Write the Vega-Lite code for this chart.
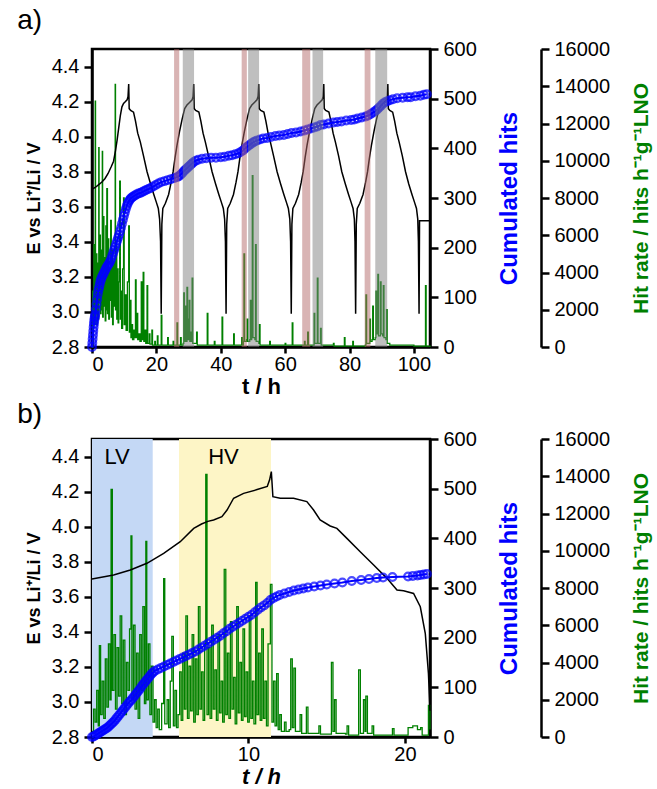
{
"$schema": "https://vega.github.io/schema/vega-lite/v6.json",
"padding": {"left": 15, "top": 5, "right": 0, "bottom": 0},
"config": {
  "font": "Liberation Sans",
  "view": {"stroke": "black", "strokeWidth": 2.5},
  "axis": {"domainColor": "black", "domainWidth": 2.5, "tickColor": "black", "tickWidth": 2.5, "tickSize": 8, "labelFontSize": 20, "labelColor": "black", "labelFont": "Liberation Sans", "titleFont": "Liberation Sans", "titleFontSize": 22, "titleFontWeight": "bold", "titleColor": "black", "grid": false, "labelPadding": 5},
  "axisX": {"labelPadding": 1, "titlePadding": 2, "tickSize": 6},
  "title": {"fontSize": 28, "fontWeight": "normal", "anchor": "start", "font": "Liberation Sans", "color": "black"}
},
"spacing": 0,
"resolve": {"scale": {"color": "independent"}},
"datasets": {
  "aE": [{"t":0,"e":3.70},{"t":1,"e":3.71},{"t":2,"e":3.725},{"t":3,"e":3.74},{"t":4,"e":3.76},{"t":5,"e":3.79},{"t":6,"e":3.83},{"t":6.7,"e":3.86},{"t":7.3,"e":3.92},{"t":7.8,"e":3.98},{"t":8.3,"e":4.05},{"t":8.8,"e":4.12},{"t":9.3,"e":4.17},{"t":9.8,"e":4.19},{"t":10.4,"e":4.2},{"t":10.9,"e":4.21},{"t":11.2,"e":4.23},{"t":11.4,"e":4.30},{"t":11.55,"e":4.16},{"t":12.0,"e":4.15},{"t":12.9,"e":4.14},{"t":13.5,"e":4.09},{"t":14.2,"e":4.02},{"t":15.0,"e":3.97},{"t":16.0,"e":3.89},{"t":17.1,"e":3.80},{"t":18.2,"e":3.73},{"t":19.2,"e":3.67},{"t":20.0,"e":3.625},{"t":20.6,"e":3.59},{"t":21.0,"e":3.53},{"t":21.3,"e":3.40},{"t":21.5,"e":2.99},
   {"t":21.7,"e":3.50},{"t":22.0,"e":3.59},{"t":22.8,"e":3.62},{"t":23.8,"e":3.67},{"t":24.6,"e":3.74},{"t":25.2,"e":3.80},{"t":25.8,"e":3.88},{"t":26.4,"e":3.95},{"t":27.2,"e":4.03},{"t":28.0,"e":4.10},{"t":28.8,"e":4.16},{"t":29.5,"e":4.18},{"t":30.3,"e":4.195},{"t":31.1,"e":4.21},{"t":31.4,"e":4.23},{"t":31.6,"e":4.30},{"t":31.75,"e":4.16},{"t":32.2,"e":4.15},{"t":33.2,"e":4.14},{"t":33.8,"e":4.09},{"t":34.5,"e":4.02},{"t":35.2,"e":3.97},{"t":36.2,"e":3.89},{"t":37.3,"e":3.80},{"t":38.4,"e":3.73},{"t":39.4,"e":3.67},{"t":40.2,"e":3.625},{"t":40.8,"e":3.59},{"t":41.2,"e":3.53},{"t":41.45,"e":3.40},{"t":41.65,"e":2.99},
   {"t":41.85,"e":3.50},{"t":42.15,"e":3.59},{"t":42.95,"e":3.62},{"t":43.95,"e":3.67},{"t":44.75,"e":3.74},{"t":45.35,"e":3.80},{"t":45.95,"e":3.88},{"t":46.55,"e":3.95},{"t":47.35,"e":4.03},{"t":48.15,"e":4.10},{"t":48.95,"e":4.16},{"t":49.65,"e":4.18},{"t":50.45,"e":4.195},{"t":51.25,"e":4.21},{"t":51.6,"e":4.23},{"t":51.8,"e":4.30},{"t":51.95,"e":4.16},{"t":52.4,"e":4.15},{"t":53.4,"e":4.14},{"t":54.0,"e":4.09},{"t":54.7,"e":4.02},{"t":55.4,"e":3.97},{"t":56.4,"e":3.89},{"t":57.5,"e":3.80},{"t":58.6,"e":3.73},{"t":59.6,"e":3.67},{"t":60.4,"e":3.625},{"t":61.0,"e":3.59},{"t":61.45,"e":3.53},{"t":61.7,"e":3.40},{"t":61.9,"e":2.99},
   {"t":62.1,"e":3.50},{"t":62.4,"e":3.59},{"t":63.2,"e":3.62},{"t":64.2,"e":3.67},{"t":65.0,"e":3.74},{"t":65.6,"e":3.80},{"t":66.2,"e":3.88},{"t":66.8,"e":3.95},{"t":67.6,"e":4.03},{"t":68.4,"e":4.10},{"t":69.2,"e":4.16},{"t":69.9,"e":4.18},{"t":70.7,"e":4.195},{"t":71.5,"e":4.21},{"t":71.8,"e":4.23},{"t":72.0,"e":4.30},{"t":72.15,"e":4.16},{"t":72.6,"e":4.15},{"t":73.6,"e":4.14},{"t":74.2,"e":4.09},{"t":74.9,"e":4.02},{"t":75.6,"e":3.97},{"t":76.6,"e":3.89},{"t":77.6,"e":3.80},{"t":78.7,"e":3.73},{"t":79.7,"e":3.67},{"t":80.5,"e":3.625},{"t":81.1,"e":3.59},{"t":81.5,"e":3.53},{"t":81.7,"e":3.40},{"t":81.9,"e":2.99},
   {"t":82.1,"e":3.50},{"t":82.4,"e":3.59},{"t":83.2,"e":3.62},{"t":84.2,"e":3.67},{"t":85.0,"e":3.74},{"t":85.6,"e":3.80},{"t":86.2,"e":3.88},{"t":86.8,"e":3.95},{"t":87.6,"e":4.03},{"t":88.4,"e":4.10},{"t":89.2,"e":4.16},{"t":89.9,"e":4.18},{"t":90.7,"e":4.195},{"t":91.5,"e":4.21},{"t":91.75,"e":4.23},{"t":91.9,"e":4.30},{"t":92.05,"e":4.16},{"t":92.5,"e":4.15},{"t":93.4,"e":4.14},{"t":94.0,"e":4.09},{"t":94.7,"e":4.02},{"t":95.4,"e":3.97},{"t":96.4,"e":3.89},{"t":97.4,"e":3.80},{"t":98.4,"e":3.73},{"t":99.4,"e":3.67},{"t":100.2,"e":3.625},{"t":100.8,"e":3.59},{"t":101.2,"e":3.53},{"t":101.4,"e":3.40},{"t":101.6,"e":2.99},{"t":101.75,"e":3.52},{"t":104.8,"e":3.52}],
  "aC": [{"t":0,"c":0},{"t":0.1,"c":8},{"t":0.2,"c":16},{"t":0.3,"c":24},{"t":0.4,"c":32},{"t":0.5,"c":40},{"t":0.6,"c":47},{"t":0.7,"c":53},{"t":0.8,"c":58},{"t":0.9,"c":62},{"t":1.0,"c":66},{"t":1.2,"c":76},{"t":1.4,"c":86},{"t":1.6,"c":96},{"t":1.8,"c":106},{"t":2.0,"c":114},{"t":2.2,"c":120},{"t":2.4,"c":126},{"t":2.6,"c":132},{"t":2.8,"c":136},{"t":3.0,"c":140},{"t":3.3,"c":144},{"t":3.6,"c":148},{"t":3.9,"c":152},{"t":4.2,"c":156},{"t":4.5,"c":160},{"t":4.8,"c":163},{"t":5.1,"c":166},{"t":5.4,"c":169},{"t":5.7,"c":173},{"t":6.0,"c":178},{"t":6.3,"c":184},{"t":6.6,"c":190},{"t":6.9,"c":196},{"t":7.2,"c":202},{"t":7.5,"c":208},{"t":7.8,"c":214},{"t":8.1,"c":220},{"t":8.4,"c":226},{"t":8.7,"c":233},{"t":9.0,"c":240},{"t":9.3,"c":248},{"t":9.6,"c":256},{"t":9.9,"c":264},{"t":10.2,"c":271},{"t":10.5,"c":278},{"t":10.8,"c":284},{"t":11.1,"c":289},{"t":11.4,"c":293},{"t":11.7,"c":296},{"t":12.0,"c":299},{"t":12.4,"c":301},{"t":12.8,"c":303},{"t":13.3,"c":305},{"t":13.8,"c":307},{"t":14.4,"c":309},{"t":15.0,"c":310},{"t":15.6,"c":312},{"t":16.2,"c":314},{"t":16.8,"c":316},{"t":17.5,"c":318},{"t":18.2,"c":320},{"t":19.0,"c":323},{"t":19.8,"c":326},{"t":20.6,"c":329},{"t":21.5,"c":332},{"t":22.5,"c":334},{"t":23.5,"c":336},{"t":24.5,"c":338},{"t":25.5,"c":340},{"t":26.4,"c":342},{"t":27.0,"c":344},{"t":27.5,"c":347},{"t":28.0,"c":350},{"t":28.5,"c":354},{"t":29.0,"c":357},{"t":29.5,"c":360},{"t":30.0,"c":363},{"t":30.5,"c":366},{"t":31.0,"c":369},{"t":31.5,"c":372},{"t":32.2,"c":375},{"t":33.0,"c":377},{"t":34.2,"c":379},{"t":35.5,"c":380},{"t":37.0,"c":381},{"t":38.5,"c":381},{"t":40.0,"c":382},{"t":41.2,"c":383},{"t":42.5,"c":385},{"t":43.5,"c":386},{"t":44.5,"c":388},{"t":45.5,"c":390},{"t":46.3,"c":393},{"t":47.0,"c":396},{"t":47.6,"c":400},{"t":48.2,"c":403},{"t":48.8,"c":406},{"t":49.4,"c":409},{"t":50.0,"c":412},{"t":50.6,"c":414},{"t":51.3,"c":416},{"t":52.2,"c":418},{"t":53.2,"c":420},{"t":54.4,"c":421},{"t":55.6,"c":423},{"t":57.0,"c":425},{"t":58.2,"c":426},{"t":59.6,"c":427},{"t":60.8,"c":429},{"t":62.0,"c":431},{"t":63.4,"c":432},{"t":64.8,"c":434},{"t":66.0,"c":436},{"t":67.0,"c":438},{"t":68.0,"c":440},{"t":69.0,"c":442},{"t":70.0,"c":444},{"t":71.0,"c":447},{"t":72.0,"c":448},{"t":73.5,"c":450},{"t":75.0,"c":452},{"t":76.2,"c":453},{"t":77.5,"c":454},{"t":79.0,"c":456},{"t":80.5,"c":457},{"t":81.5,"c":458},{"t":82.5,"c":460},{"t":83.8,"c":462},{"t":85.0,"c":464},{"t":85.8,"c":466},{"t":86.6,"c":469},{"t":87.3,"c":472},{"t":88.0,"c":475},{"t":88.6,"c":478},{"t":89.2,"c":482},{"t":89.8,"c":486},{"t":90.4,"c":490},{"t":91.0,"c":493},{"t":91.7,"c":495},{"t":92.5,"c":497},{"t":93.5,"c":499},{"t":94.8,"c":501},{"t":96.5,"c":502},{"t":98.0,"c":503},{"t":99.0,"c":503},{"t":100.5,"c":505},{"t":102.0,"c":506},{"t":103.1,"c":508},{"t":104.0,"c":509}],
  "aH": [{"t":0,"h":0},{"t":0.2,"h":3000},{"t":0.4,"h":1500},{"t":0.6,"h":5500},{"t":0.8,"h":1200},{"t":1.0,"h":13200},{"t":1.1,"h":2000},{"t":1.3,"h":5000},{"t":1.5,"h":1200},{"t":1.7,"h":4500},{"t":1.9,"h":1500},{"t":2.1,"h":10700},{"t":2.2,"h":2500},{"t":2.4,"h":6000},{"t":2.6,"h":1800},{"t":2.8,"h":5200},{"t":3.0,"h":2000},{"t":3.2,"h":10500},{"t":3.3,"h":1600},{"t":3.5,"h":7000},{"t":3.7,"h":2200},{"t":3.9,"h":4800},{"t":4.1,"h":1400},{"t":4.3,"h":6500},{"t":4.5,"h":2000},{"t":4.6,"h":8500},{"t":4.8,"h":1800},{"t":5.0,"h":5800},{"t":5.2,"h":1500},{"t":5.4,"h":4200},{"t":5.6,"h":2500},{"t":5.8,"h":6800},{"t":6.0,"h":1600},{"t":6.2,"h":5200},{"t":6.4,"h":1200},{"t":6.6,"h":4600},{"t":6.8,"h":2200},{"t":7.0,"h":3800},{"t":7.2,"h":14100},{"t":7.3,"h":2000},{"t":7.5,"h":5500},{"t":7.7,"h":1500},{"t":7.9,"h":4200},{"t":8.1,"h":1300},{"t":8.3,"h":3500},{"t":8.6,"h":8900},{"t":8.8,"h":1500},{"t":9.0,"h":3000},{"t":9.2,"h":1000},{"t":9.5,"h":4200},{"t":9.8,"h":8000},{"t":10.0,"h":1200},{"t":10.3,"h":2800},{"t":10.6,"h":900},{"t":11.0,"h":3500},{"t":11.4,"h":6500},
   {"t":11.6,"h":800},{"t":11.9,"h":2500},{"t":12.1,"h":500},{"t":12.4,"h":1200},{"t":12.6,"h":400},{"t":13.0,"h":900},{"t":13.3,"h":500},{"t":13.5,"h":3600},{"t":13.7,"h":500},{"t":14.0,"h":1800},{"t":14.2,"h":400},{"t":14.6,"h":700},{"t":14.9,"h":300},{"t":15.3,"h":3500},{"t":15.5,"h":400},{"t":15.9,"h":4000},{"t":16.1,"h":300},{"t":16.5,"h":900},{"t":16.7,"h":200},{"t":17.1,"h":3300},{"t":17.3,"h":200},{"t":17.8,"h":700},{"t":18.0,"h":150},{"t":18.6,"h":900},{"t":18.8,"h":100},{"t":19.5,"h":300},{"t":19.7,"h":100},{"t":20.3,"h":600},{"t":20.5,"h":100},{"t":21.3,"h":100},{"t":21.5,"h":1700},{"t":21.7,"h":100},{"t":23.0,"h":100},{"t":23.5,"h":500},{"t":23.7,"h":100},{"t":25.0,"h":100},{"t":25.2,"h":300},{"t":25.4,"h":100},{"t":26.2,"h":100},{"t":26.4,"h":1300},{"t":26.6,"h":100},{"t":27.3,"h":100},{"t":27.5,"h":500},{"t":27.7,"h":100},{"t":28.3,"h":200},{"t":28.5,"h":2900},{"t":28.7,"h":300},{"t":29.0,"h":2200},{"t":29.2,"h":300},{"t":29.5,"h":3200},{"t":29.7,"h":400},{"t":30.0,"h":1500},{"t":30.2,"h":2500},{"t":30.4,"h":300},{"t":30.7,"h":800},{"t":30.9,"h":300},{"t":31.1,"h":3700},{"t":31.3,"h":200},{"t":32.0,"h":200},{"t":32.5,"h":800},{"t":32.7,"h":100},{"t":35.6,"h":100},{"t":35.8,"h":1800},{"t":36.0,"h":100},{"t":37.8,"h":100},{"t":38.0,"h":300},{"t":38.2,"h":100},{"t":40.2,"h":100},{"t":40.4,"h":1600},{"t":40.6,"h":100},{"t":43.8,"h":100},{"t":44.0,"h":700},{"t":44.2,"h":100},{"t":46.3,"h":100},{"t":46.5,"h":500},{"t":46.7,"h":100},{"t":47.0,"h":300},{"t":47.2,"h":5000},{"t":47.4,"h":300},{"t":48.0,"h":400},{"t":48.2,"h":1500},{"t":48.4,"h":300},{"t":49.0,"h":400},{"t":49.2,"h":2500},{"t":49.4,"h":400},{"t":49.6,"h":500},{"t":49.8,"h":9200},{"t":50.0,"h":500},{"t":50.6,"h":400},{"t":50.8,"h":5500},{"t":51.0,"h":300},{"t":51.8,"h":200},{"t":52.0,"h":1200},{"t":52.2,"h":100},{"t":55.0,"h":100},{"t":55.2,"h":300},{"t":55.4,"h":100},{"t":59.8,"h":100},{"t":60.0,"h":200},{"t":60.2,"h":100},{"t":62.0,"h":100},{"t":62.2,"h":1300},{"t":62.4,"h":100},{"t":65.8,"h":100},{"t":66.0,"h":300},{"t":66.2,"h":100},{"t":66.8,"h":100},{"t":67.0,"h":800},{"t":67.2,"h":100},{"t":68.8,"h":100},{"t":69.0,"h":1800},{"t":69.2,"h":200},{"t":69.8,"h":200},{"t":70.0,"h":3700},{"t":70.2,"h":200},{"t":70.8,"h":200},{"t":71.0,"h":1000},{"t":71.2,"h":100},{"t":74.8,"h":100},{"t":75.0,"h":200},{"t":75.2,"h":50},{"t":78.2,"h":50},{"t":78.4,"h":500},{"t":78.6,"h":50},{"t":80.8,"h":50},{"t":81.0,"h":300},{"t":81.2,"h":50},{"t":84.9,"h":100},{"t":85.1,"h":2800},{"t":85.3,"h":200},{"t":86.1,"h":200},{"t":86.3,"h":1500},{"t":86.5,"h":300},{"t":87.0,"h":400},{"t":87.2,"h":2200},{"t":87.4,"h":400},{"t":88.0,"h":500},{"t":88.2,"h":3000},{"t":88.4,"h":700},{"t":88.6,"h":800},{"t":88.8,"h":3900},{"t":89.0,"h":600},{"t":89.4,"h":600},{"t":89.6,"h":3500},{"t":89.8,"h":700},{"t":90.3,"h":600},{"t":90.5,"h":3300},{"t":90.7,"h":500},{"t":91.3,"h":400},{"t":91.5,"h":2000},{"t":91.7,"h":200},{"t":92.5,"h":100},{"t":95.0,"h":100},{"t":100.0,"h":50},{"t":103.4,"h":50},{"t":103.6,"h":3300},{"t":103.8,"h":50},{"t":105.0,"h":0}],
  "aBands": [{"t0":25.5,"t1":27.1,"k":"pink"},{"t0":28.2,"t1":31.7,"k":"gray"},{"t0":46.5,"t1":48.1,"k":"pink"},{"t0":48.5,"t1":51.9,"k":"gray"},{"t0":65.3,"t1":67.8,"k":"pink"},{"t0":68.5,"t1":71.8,"k":"gray"},{"t0":84.7,"t1":86.5,"k":"pink"},{"t0":88.0,"t1":91.7,"k":"gray"}],
  "bE": [{"t":0,"e":3.701},{"t":1.38,"e":3.724},{"t":2.45,"e":3.753},{"t":3.51,"e":3.791},{"t":4.58,"e":3.848},{"t":5.64,"e":3.914},{"t":6.5,"e":3.99},{"t":7.0,"e":4.015},{"t":7.4,"e":4.03},{"t":7.77,"e":4.038},{"t":8.3,"e":4.057},{"t":8.63,"e":4.095},{"t":9.05,"e":4.162},{"t":9.69,"e":4.19},{"t":10.5,"e":4.21},{"t":11.2,"e":4.229},{"t":11.35,"e":4.267},{"t":11.46,"e":4.314},{"t":11.56,"e":4.171},{"t":12.03,"e":4.162},{"t":12.88,"e":4.162},{"t":13.73,"e":4.143},{"t":14.16,"e":4.095},{"t":14.58,"e":4.038},{"t":15.22,"e":4.004},{"t":15.65,"e":3.99},{"t":16.29,"e":3.933},{"t":17.14,"e":3.857},{"t":18.0,"e":3.781},{"t":18.85,"e":3.705},{"t":19.49,"e":3.638},{"t":19.91,"e":3.634},{"t":20.55,"e":3.619},{"t":20.98,"e":3.543},{"t":21.3,"e":3.39},{"t":21.5,"e":3.162},{"t":21.6,"e":2.95}],
  "bC": [{"t":0,"c":0},{"t":0.1,"c":1},{"t":0.2,"c":3},{"t":0.3,"c":5},{"t":0.4,"c":7},{"t":0.5,"c":9},{"t":0.6,"c":11},{"t":0.7,"c":13},{"t":0.8,"c":15},{"t":0.9,"c":17},{"t":1.0,"c":19},{"t":1.1,"c":22},{"t":1.2,"c":25},{"t":1.3,"c":28},{"t":1.4,"c":31},{"t":1.5,"c":35},{"t":1.6,"c":39},{"t":1.7,"c":43},{"t":1.8,"c":47},{"t":1.9,"c":51},{"t":2.0,"c":55},{"t":2.1,"c":59},{"t":2.2,"c":63},{"t":2.3,"c":67},{"t":2.4,"c":71},{"t":2.5,"c":74},{"t":2.6,"c":78},{"t":2.7,"c":82},{"t":2.8,"c":86},{"t":2.9,"c":90},{"t":3.0,"c":94},{"t":3.1,"c":98},{"t":3.2,"c":103},{"t":3.3,"c":107},{"t":3.4,"c":111},{"t":3.5,"c":115},{"t":3.6,"c":119},{"t":3.7,"c":123},{"t":3.8,"c":127},{"t":3.9,"c":130},{"t":4.0,"c":133},{"t":4.2,"c":136},{"t":4.4,"c":139},{"t":4.6,"c":142},{"t":4.8,"c":145},{"t":5.0,"c":148},{"t":5.2,"c":151},{"t":5.4,"c":154},{"t":5.6,"c":157},{"t":5.8,"c":160},{"t":6.0,"c":163},{"t":6.2,"c":166},{"t":6.4,"c":169},{"t":6.6,"c":172},{"t":6.8,"c":176},{"t":7.0,"c":180},{"t":7.2,"c":184},{"t":7.4,"c":188},{"t":7.6,"c":192},{"t":7.8,"c":196},{"t":8.0,"c":200},{"t":8.2,"c":204},{"t":8.4,"c":209},{"t":8.6,"c":213},{"t":8.8,"c":218},{"t":9.0,"c":222},{"t":9.2,"c":226},{"t":9.4,"c":230},{"t":9.6,"c":234},{"t":9.8,"c":238},{"t":10.0,"c":242},{"t":10.2,"c":246},{"t":10.4,"c":251},{"t":10.6,"c":256},{"t":10.8,"c":261},{"t":11.0,"c":265},{"t":11.2,"c":270},{"t":11.4,"c":276},{"t":11.6,"c":280},{"t":11.8,"c":283},{"t":12.0,"c":286},{"t":12.3,"c":289},{"t":12.6,"c":292},{"t":12.9,"c":295},{"t":13.2,"c":297},{"t":13.5,"c":299},{"t":13.8,"c":301},{"t":14.2,"c":303},{"t":14.6,"c":305},{"t":15.0,"c":307},{"t":15.5,"c":309},{"t":16.0,"c":311},{"t":16.6,"c":314},{"t":17.2,"c":316},{"t":17.7,"c":318},{"t":18.2,"c":320},{"t":18.6,"c":321},{"t":19.2,"c":322},{"t":20.2,"c":323},{"t":20.5,"c":324},{"t":20.8,"c":325},{"t":21.0,"c":326},{"t":21.2,"c":327},{"t":21.4,"c":328}],
  "bH": [{"t":0.0,"h":300},{"t":0.1,"h":1500},{"t":0.2,"h":800},{"t":0.3,"h":2500},{"t":0.4,"h":600},{"t":0.47,"h":4900},{"t":0.55,"h":1200},{"t":0.65,"h":3000},{"t":0.75,"h":1000},{"t":0.85,"h":4200},{"t":0.95,"h":1600},{"t":1.05,"h":5000},{"t":1.15,"h":2000},{"t":1.22,"h":13300},{"t":1.3,"h":2500},{"t":1.4,"h":5500},{"t":1.5,"h":1500},{"t":1.6,"h":4800},{"t":1.7,"h":2200},{"t":1.8,"h":6500},{"t":1.9,"h":1800},{"t":2.0,"h":5200},{"t":2.1,"h":1200},{"t":2.2,"h":4000},{"t":2.3,"h":2500},{"t":2.4,"h":5800},{"t":2.49,"h":10800},{"t":2.55,"h":2000},{"t":2.65,"h":6000},{"t":2.75,"h":1500},{"t":2.85,"h":4500},{"t":2.95,"h":1000},{"t":3.05,"h":5500},{"t":3.15,"h":2500},{"t":3.25,"h":7000},{"t":3.35,"h":1800},{"t":3.44,"h":10500},{"t":3.5,"h":2000},{"t":3.6,"h":5000},{"t":3.7,"h":1200},{"t":3.8,"h":3800},{"t":3.9,"h":800},{"t":4.0,"h":2000},{"t":4.1,"h":500},{"t":4.2,"h":1500},{"t":4.3,"h":400},{"t":4.45,"h":1800},{"t":4.58,"h":8500},{"t":4.65,"h":700},{"t":4.8,"h":2000},{"t":4.9,"h":500},{"t":5.0,"h":3000},{"t":5.1,"h":5400},{"t":5.2,"h":600},{"t":5.3,"h":2500},{"t":5.4,"h":500},{"t":5.5,"h":1200},{"t":5.6,"h":3500},{"t":5.7,"h":900},{"t":5.8,"h":4500},{"t":5.9,"h":1500},{"t":6.0,"h":6500},{"t":6.1,"h":1000},{"t":6.2,"h":3800},{"t":6.3,"h":1400},{"t":6.4,"h":5500},{"t":6.5,"h":800},{"t":6.6,"h":4200},{"t":6.7,"h":1200},{"t":6.8,"h":7000},{"t":6.9,"h":1500},{"t":7.0,"h":3500},{"t":7.1,"h":900},{"t":7.2,"h":5000},{"t":7.27,"h":14100},{"t":7.35,"h":1200},{"t":7.45,"h":4800},{"t":7.55,"h":1000},{"t":7.65,"h":6000},{"t":7.75,"h":1500},{"t":7.85,"h":3600},{"t":7.95,"h":900},{"t":8.05,"h":5500},{"t":8.15,"h":1300},{"t":8.25,"h":3000},{"t":8.35,"h":800},{"t":8.45,"h":9000},{"t":8.55,"h":1200},{"t":8.65,"h":4500},{"t":8.75,"h":1000},{"t":8.85,"h":6200},{"t":8.95,"h":1500},{"t":9.05,"h":3200},{"t":9.15,"h":700},{"t":9.25,"h":7000},{"t":9.35,"h":1300},{"t":9.45,"h":4000},{"t":9.55,"h":900},{"t":9.65,"h":5800},{"t":9.75,"h":1100},{"t":9.85,"h":3500},{"t":9.95,"h":800},{"t":10.05,"h":6500},{"t":10.15,"h":1000},{"t":10.25,"h":3000},{"t":10.35,"h":700},{"t":10.46,"h":8300},{"t":10.55,"h":1200},{"t":10.65,"h":4500},{"t":10.75,"h":900},{"t":10.85,"h":5800},{"t":10.95,"h":1000},{"t":11.05,"h":3000},{"t":11.15,"h":600},{"t":11.25,"h":5000},{"t":11.4,"h":8200},
   {"t":11.5,"h":800},{"t":11.6,"h":3000},{"t":11.7,"h":600},{"t":11.8,"h":3400},{"t":11.9,"h":400},{"t":12.0,"h":1200},{"t":12.1,"h":300},{"t":12.3,"h":800},{"t":12.4,"h":300},{"t":12.6,"h":400},{"t":12.7,"h":4200},{"t":12.8,"h":500},{"t":12.9,"h":3700},{"t":13.0,"h":300},{"t":13.2,"h":300},{"t":13.3,"h":1200},{"t":13.4,"h":200},{"t":13.6,"h":200},{"t":13.7,"h":1600},{"t":13.8,"h":200},{"t":14.4,"h":200},{"t":14.5,"h":600},{"t":14.6,"h":150},{"t":15.2,"h":150},{"t":15.3,"h":4000},{"t":15.4,"h":300},{"t":15.5,"h":2000},{"t":15.6,"h":200},{"t":16.2,"h":150},{"t":16.3,"h":600},{"t":16.4,"h":100},{"t":16.9,"h":100},{"t":17.04,"h":3600},{"t":17.15,"h":200},{"t":17.3,"h":200},{"t":17.35,"h":2000},{"t":17.45,"h":300},{"t":17.5,"h":2200},{"t":17.6,"h":200},{"t":17.8,"h":200},{"t":17.9,"h":600},{"t":18.0,"h":100},{"t":19.1,"h":100},{"t":19.2,"h":450},{"t":19.3,"h":100},{"t":20.1,"h":100},{"t":20.2,"h":500},{"t":20.5,"h":600},{"t":20.8,"h":400},{"t":21.0,"h":500},{"t":21.1,"h":100},{"t":21.4,"h":100},{"t":21.5,"h":1700},{"t":21.6,"h":400}],
  "bBands": [{"t0":0,"t1":3.88,"k":"LV"},{"t0":5.56,"t1":11.44,"k":"HV"}],
  "bLab": [{"t":1.6,"e":4.4,"s":"LV"},{"t":8.4,"e":4.4,"s":"HV"}]
},
"vconcat": [
 {
  "title": {"text": "a)", "frame": "bounds", "dx": -8, "offset": 4},
  "width": 338, "height": 298,
  "layer": [
   {"data": {"name": "aH"}, "mark": {"type": "line", "color": "#008000", "strokeWidth": 1.3, "interpolate": "step-after"},
    "encoding": {
     "x": {"field": "t", "type": "quantitative", "scale": {"domain": [0, 105], "nice": false}, "axis": {"values": [0,20,40,60,80,100], "title": "t / h"}},
     "y": {"field": "h", "type": "quantitative", "scale": {"domain": [0, 16000], "nice": false}, "axis": {"orient": "right", "offset": 111, "values": [0,2000,4000,6000,8000,10000,12000,14000,16000], "format": "d", "title": "Hit rate / hits h⁻¹g⁻¹LNO", "titleColor": "#008000", "titleAngle": 270, "titleBaseline": "top", "titlePadding": 21, "titleFontSize": 21}}}},
   {"data": {"name": "aE"}, "mark": {"type": "line", "color": "black", "strokeWidth": 1.5},
    "encoding": {
     "x": {"field": "t", "type": "quantitative", "scale": {"domain": [0, 105], "nice": false}, "axis": {"values": [0,20,40,60,80,100], "title": "t / h"}},
     "y": {"field": "e", "type": "quantitative", "scale": {"domain": [2.8, 4.5], "nice": false, "zero": false}, "axis": {"orient": "left", "values": [2.8,3.0,3.2,3.4,3.6,3.8,4.0,4.2,4.4], "format": ".1f", "title": "E vs Li⁺/Li / V", "titlePadding": 8, "titleFontSize": 18}}}},
   {"data": {"name": "aC"},
    "encoding": {
     "x": {"field": "t", "type": "quantitative", "scale": {"domain": [0, 105], "nice": false}, "axis": {"values": [0,20,40,60,80,100], "title": "t / h"}},
     "y": {"field": "c", "type": "quantitative", "scale": {"domain": [0, 600], "nice": false}, "axis": {"orient": "right", "values": [0,100,200,300,400,500,600], "title": "Cumulated hits", "titleColor": "#0000ff", "titleAngle": 270, "titleBaseline": "top", "titlePadding": 21, "titleFontSize": 24}}},
    "layer": [
     {"mark": {"type": "line", "color": "#0000ff", "strokeWidth": 2}},
     {"mark": {"type": "point", "shape": "circle", "filled": false, "color": "#0000ff", "strokeWidth": 2.2, "size": 60}}
    ]},
   {"data": {"name": "aBands"}, "mark": {"type": "rect", "opacity": 0.5},
    "encoding": {
     "x": {"field": "t0", "type": "quantitative", "scale": {"domain": [0, 105], "nice": false}, "axis": {"values": [0,20,40,60,80,100], "title": "t / h"}},
     "x2": {"field": "t1"},
     "color": {"field": "k", "type": "nominal", "scale": {"domain": ["pink", "gray"], "range": ["#b46969", "#7f7f7f"]}, "legend": null}}}
  ],
  "resolve": {"scale": {"y": "independent"}}
 },
 {
  "title": {"text": "b)", "frame": "bounds", "dx": -8, "offset": 0},
  "width": 338, "height": 298,
  "layer": [
   {"data": {"name": "bBands"}, "mark": {"type": "rect"},
    "encoding": {
     "x": {"field": "t0", "type": "quantitative", "scale": {"domain": [0, 21.6], "nice": false}, "axis": {"values": [0,10,20], "title": "t / h", "titleFontStyle": "italic"}},
     "x2": {"field": "t1"},
     "color": {"field": "k", "type": "nominal", "scale": {"domain": ["LV", "HV"], "range": ["#c4d8f5", "#fdf5c6"]}, "legend": null}}},
   {"data": {"name": "bH"}, "mark": {"type": "line", "color": "#008000", "strokeWidth": 1.3, "interpolate": "step-after"},
    "encoding": {
     "x": {"field": "t", "type": "quantitative", "scale": {"domain": [0, 21.6], "nice": false}, "axis": {"values": [0,10,20], "title": "t / h", "titleFontStyle": "italic"}},
     "y": {"field": "h", "type": "quantitative", "scale": {"domain": [0, 16000], "nice": false}, "axis": {"orient": "right", "offset": 111, "values": [0,2000,4000,6000,8000,10000,12000,14000,16000], "format": "d", "title": "Hit rate / hits h⁻¹g⁻¹LNO", "titleColor": "#008000", "titleAngle": 270, "titleBaseline": "top", "titlePadding": 21, "titleFontSize": 21}}}},
   {"layer": [
     {"data": {"name": "bE"}, "mark": {"type": "line", "color": "black", "strokeWidth": 1.5},
      "encoding": {
       "x": {"field": "t", "type": "quantitative", "scale": {"domain": [0, 21.6], "nice": false}, "axis": {"values": [0,10,20], "title": "t / h", "titleFontStyle": "italic"}},
       "y": {"field": "e", "type": "quantitative", "scale": {"domain": [2.8, 4.5], "nice": false, "zero": false}, "axis": {"orient": "left", "values": [2.8,3.0,3.2,3.4,3.6,3.8,4.0,4.2,4.4], "format": ".1f", "title": "E vs Li⁺/Li / V", "titlePadding": 8, "titleFontSize": 18}}}},
     {"data": {"name": "bLab"}, "mark": {"type": "text", "fontSize": 22, "color": "black", "font": "Liberation Sans"},
      "encoding": {
       "x": {"field": "t", "type": "quantitative", "scale": {"domain": [0, 21.6], "nice": false}, "axis": {"values": [0,10,20], "title": "t / h", "titleFontStyle": "italic"}},
       "y": {"field": "e", "type": "quantitative", "scale": {"domain": [2.8, 4.5], "nice": false, "zero": false}, "axis": {"orient": "left", "values": [2.8,3.0,3.2,3.4,3.6,3.8,4.0,4.2,4.4], "format": ".1f", "title": "E vs Li⁺/Li / V", "titlePadding": 8, "titleFontSize": 18}},
       "text": {"field": "s"}}}
   ]},
   {"data": {"name": "bC"},
    "encoding": {
     "x": {"field": "t", "type": "quantitative", "scale": {"domain": [0, 21.6], "nice": false}, "axis": {"values": [0,10,20], "title": "t / h", "titleFontStyle": "italic"}},
     "y": {"field": "c", "type": "quantitative", "scale": {"domain": [0, 600], "nice": false}, "axis": {"orient": "right", "values": [0,100,200,300,400,500,600], "title": "Cumulated hits", "titleColor": "#0000ff", "titleAngle": 270, "titleBaseline": "top", "titlePadding": 21, "titleFontSize": 24}}},
    "layer": [
     {"mark": {"type": "line", "color": "#0000ff", "strokeWidth": 2}},
     {"mark": {"type": "point", "shape": "circle", "filled": false, "color": "#0000ff", "strokeWidth": 2.2, "size": 60}}
    ]}
  ],
  "resolve": {"scale": {"y": "independent"}}
 }
]
}
